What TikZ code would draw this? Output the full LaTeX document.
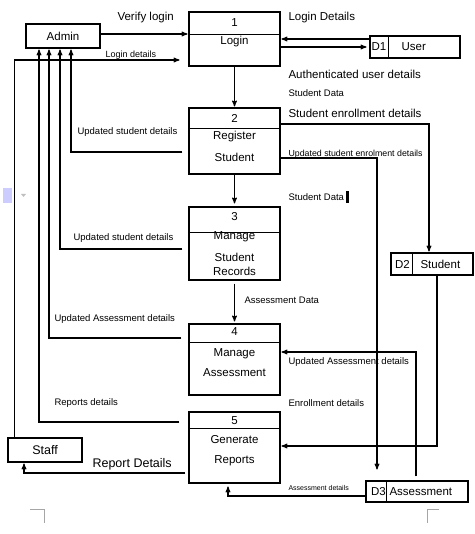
\documentclass[tikz,border=0pt]{standalone}
\usepackage{fontspec}
\setmainfont{Liberation Sans}
\usetikzlibrary{arrows,positioning}

\begin{document}
\begin{tikzpicture}[x=1pt,y=-1pt,>=stealth',line width=1.1pt,
        box/.style={draw,inner sep=0pt,font=\fontsize{11.5}{13}\selectfont},
        proc/.style={box,minimum width=91pt},
        flow/.style={->,shorten >=1pt},
        txt/.style={inner sep=0pt,font=\fontsize{11.5}{13}\selectfont},
        lbl/.style={inner sep=0pt,anchor=west,font=\fontsize{9.5}{11}\selectfont},
        biglbl/.style={lbl,font=\fontsize{11.5}{13}\selectfont}]

    \useasboundingbox (0,0) rectangle (474,534);

    % external entities
    \node[box,minimum width=74pt,minimum height=24pt] (admin) at (63,36) {Admin};
    \node[box,minimum width=74pt,minimum height=24pt,font=\fontsize{12.5}{14}\selectfont] (staff) at (45,450) {Staff};

    % processes
    \node[proc,minimum height=54pt] (p1) at (234.5,39) {};
    \node[proc,minimum height=66pt] (p2) at (234.5,141) {};
    \node[proc,minimum height=73pt] (p3) at (234.5,243.5) {};
    \node[proc,minimum height=71pt] (p4) at (234.5,359.5) {};
    \node[proc,minimum height=71pt] (p5) at (234.5,447.5) {};
    \foreach \p/\d in {p1/23,p2/21,p3/26,p4/19,p5/17}
        \draw ([yshift=-\d pt]\p.north west) -- ([yshift=-\d pt]\p.north east);

    \node[txt] at (234.5,23) {1};
    \node[txt] at (234.5,42) {Login};
    \node[txt] at (234.5,118) {2};
    \node[txt] at (234.5,137) {Register};
    \node[txt] at (234.5,157) {Student};
    \node[txt] at (234.5,217) {3};
    \node[txt] at (234.5,237) {Manage};
    \node[txt] at (234.5,257) {Student};
    \node[txt] at (234.5,271) {Records};
    \node[txt] at (234.5,332) {4};
    \node[txt] at (234.5,354) {Manage};
    \node[txt] at (234.5,373) {Assessment};
    \node[txt] at (234.5,421) {5};
    \node[txt] at (234.5,440) {Generate};
    \node[txt] at (234.5,461) {Reports};

    % data stores
    \node[box,minimum width=90pt,minimum height=22pt] (d1) at (415,47) {};
    \node[box,minimum width=82pt,minimum height=22pt] (d2) at (432,264) {};
    \node[box,minimum width=102pt,minimum height=21pt] (d3) at (417,491.5) {};
    \foreach \d/\s in {d1/19,d2/22,d3/21}
        \draw ([xshift=\s pt]\d.north west) -- ([xshift=\s pt]\d.south west);
    \node[txt] at (379,47) {D1};
    \node[txt,anchor=west] at (401,47) {User};
    \node[txt] at (402.5,264) {D2};
    \node[txt,anchor=west] at (420,264) {Student};
    \node[txt] at (378.5,491.5) {D3};
    \node[txt,anchor=west] at (389,491.5) {Assessment};

    % flows
    \draw[flow] ([yshift=2pt]admin.east) -- ([yshift=2pt]admin.east -| p1.west);
    \draw[flow] ([yshift=8pt]d1.west) -- ([yshift=8pt]d1.west -| p1.east);
    \draw[flow,shorten >=3pt] (p1.east |- d1.west) -- (d1.west);
    \draw[flow,shorten >=9pt] ([xshift=7pt]staff.north west) |- ([yshift=-21pt]p1.west);
    \draw[flow] (p1) -- (p2);
    \draw[flow,shorten >=3pt] (p2) -- (p3);
    \draw[flow,shorten <=3pt,shorten >=2pt] (p3) -- (p4);
    \draw[flow,shorten <=6pt] ([yshift=-11pt]p2.west) -| ([xshift=8pt]admin.south);
    \draw[flow,shorten <=6pt] ([yshift=-5.5pt]p3.west) -| ([xshift=-3pt]admin.south);
    \draw[flow,shorten <=7pt] ([yshift=21.5pt]p4.west) -| ([xshift=-14pt]admin.south);
    \draw[flow,shorten <=9pt] ([yshift=25.5pt]p5.west) -| ([xshift=-24pt]admin.south);
    \draw[flow,shorten <=3pt] ([yshift=-25.5pt]p5.west) -| ([xshift=-21pt]staff.south);
    \draw[flow] ([yshift=17pt]p2.east) -| ([xshift=-3pt]d2.north);
    \draw[flow,shorten >=11pt] ([yshift=-17pt]p2.east) -| ([xshift=-40pt]d3.north);
    \draw[flow,shorten <=4pt] ([xshift=-1pt]d3.north) |- ([yshift=7.5pt]p4.east);
    \draw[flow] ([xshift=5pt]d2.south) |- ([yshift=1.5pt]p5.east);
    \draw[flow,shorten >=3pt] ([yshift=-4.5pt]d3.west) -| ([xshift=-6.5pt]p5.south);

    % flow labels
    \node[biglbl] at (117,18) {Verify login};
    \node[biglbl] at (288,18) {Login Details};
    \node[lbl,font=\fontsize{9}{10}\selectfont] at (105,55) {Login details};
    \node[biglbl] at (288,74) {Authenticated user details};
    \node[lbl] at (288,93) {Student Data};
    \node[biglbl] at (288,113) {Student enrollment details};
    \node[lbl] at (77,132) {Updated student details};
    \node[lbl,font=\fontsize{8.8}{10}\selectfont] at (288,154) {Updated student enrolment details};
    \node[lbl] at (288,197) {Student Data};
    \node[lbl] at (73,238) {Updated student details};
    \node[lbl] at (244,300) {Assessment Data};
    \node[lbl] at (54,319) {Updated Assessment details};
    \node[lbl] at (288,362) {Updated Assessment details};
    \node[lbl] at (54,403) {Reports details};
    \node[lbl] at (288,403) {Enrollment details};
    \node[lbl,font=\fontsize{12.5}{14}\selectfont] at (92,464) {Report Details};
    \node[lbl,font=\fontsize{7}{8}\selectfont] at (288,488) {Assessment details};

    % marks around the page
    \fill (346,191) rectangle (348.5,203);
    \fill[blue!20] (3,188) rectangle (12,203);
    \fill[gray!50] (21,194) -- (26,194) -- (23.5,197) -- cycle;
    \draw[gray!70,line width=1pt] (30,509) -- (44,509) -- (44,523);
    \draw[gray!70,line width=1pt] (439,509) -- (427,509) -- (427,523);

\end{tikzpicture}
\end{document}
